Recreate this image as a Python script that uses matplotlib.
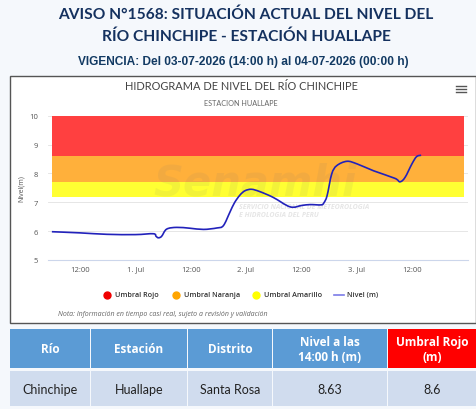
#! /usr/bin/env python
import matplotlib
matplotlib.use("Agg")
import matplotlib.pyplot as plt
from matplotlib.patches import PathPatch, Rectangle
from matplotlib.path import Path

# hours counted from 30 Jun 00:00
hours = [5.9, 12, 17.8, 24, 27.9, 28.5, 29, 29.7, 30.8, 33, 35.9, 38.8, 41.7, 43.1, 44.5,
         45.5, 46.7, 47.8, 49.2, 51, 53.9, 57.6, 60.1, 61.9, 64.3, 64.9, 65.6, 66.6, 67.7,
         69.9, 72.1, 75.7, 80.3, 81.4, 82.5, 84, 85, 86]
nivel = [5.98, 5.94, 5.89, 5.88, 5.91, 5.82, 5.77, 5.82, 6.07, 6.13, 6.10, 6.06, 6.11, 6.19, 6.65,
         6.98, 7.25, 7.40, 7.45, 7.37, 7.17, 6.84, 6.89, 6.92, 6.91, 6.98, 7.23, 7.98, 8.27,
         8.42, 8.33, 8.09, 7.83, 7.71, 7.86, 8.33, 8.58, 8.63]

band_limits = [7.2, 7.7, 8.6, 10]
band_colors = ["#FFFF33", "#FFB03B", "#FF4040"]
y_ticks = [5, 6, 7, 8, 9, 10]
x_ticks = [12, 24, 36, 48, 60, 72, 84]
x_labels = ["12:00", "1. Jul", "12:00", "2. Jul", "12:00", "3. Jul", "12:00"]
legend_names = ["Umbral Rojo", "Umbral Naranja", "Umbral Amarillo"]
legend_colors = ["#F00000", "#FFA500", "#FFFF00"]
table_head = ["Río", "Estación", "Distrito", "Nivel a las\n14:00 h (m)", "Umbral Rojo\n(m)"]
table_row = ["Chinchipe", "Huallape", "Santa Rosa", "8.63", "8.6"]


def smooth_path(xs, ys):
    # bezier curve through the points, the chart library draws its line the same way
    verts = [(xs[0], ys[0])]
    codes = [Path.MOVETO]
    n = len(xs)
    for i in range(n - 1):
        a, b = max(i - 1, 0), min(i + 2, n - 1)
        verts.append((xs[i] + (xs[i + 1] - xs[a]) / 6, ys[i] + (ys[i + 1] - ys[a]) / 6))
        verts.append((xs[i + 1] - (xs[b] - xs[i]) / 6, ys[i + 1] - (ys[b] - ys[i]) / 6))
        verts.append((xs[i + 1], ys[i + 1]))
        codes += [Path.CURVE4] * 3
    return Path(verts, codes)


W, H = 477, 410
fig = plt.figure(figsize=(W / 100, H / 100), dpi=100, facecolor="#F5F8FC")

# page overlay in pixel coordinates
page = fig.add_axes([0, 0, 1, 1])
page.set_xlim(0, W)
page.set_ylim(H, 0)
page.axis("off")

navy = "#14315F"
page.text(246, 15, "AVISO N°1568: SITUACIÓN ACTUAL DEL NIVEL DEL", ha="center", va="center",
          family="Lato", weight="bold", fontsize=11.2, color=navy)
page.text(246, 37, "RÍO CHINCHIPE - ESTACIÓN HUALLAPE", ha="center", va="center",
          family="Lato", weight="bold", fontsize=11.2, color=navy)
page.text(243, 62, "VIGENCIA: Del 03-07-2026 (14:00 h) al 04-07-2026 (00:00 h)", ha="center", va="center",
          family="Liberation Sans", weight="bold", fontsize=8.6, color="#123A63")

# chart frame
page.add_patch(Rectangle((10.5, 76.5), 465.5, 247.5, fc="white", ec="#555555", lw=1))
page.text(241, 87, "HIDROGRAMA DE NIVEL DEL RÍO CHINCHIPE", ha="center", va="center",
          family="Lato", fontsize=7.9, color="#444444")
page.text(241, 104, "ESTACION HUALLAPE", ha="center", va="center",
          family="Lato", fontsize=5.2, color="#666666")
for y in [86.5, 89.5, 92.5]:
    page.plot([456, 466], [y, y], color="#555555", lw=1)

# legend row
for x, name, col in zip([107, 176, 256], legend_names, legend_colors):
    page.plot(x, 296, "o", color=col, ms=5)
    page.text(x + 8, 296, name, va="center", family="Open Sans", weight="semibold",
              fontsize=5.2, color="#333333")
page.plot([334, 344], [296, 296], color="#7B7BE8", lw=1.2)
page.text(347, 296, "Nivel (m)", va="center", family="Open Sans", weight="semibold",
          fontsize=5.2, color="#333333")
page.text(58, 314.5, "Nota: Información en tiempo casi real, sujeto a revisión y validación", va="center",
          family="Open Sans", style="italic", fontsize=5, color="#666666")

# table
col_edges = [(10, 90), (91, 187), (188, 272), (273, 387), (388, 476)]
for i, (x0, x1) in enumerate(col_edges):
    page.add_patch(Rectangle((x0, 330), x1 - x0, 39, fc="#FF0000" if i == 4 else "#5B9BD5", ec="none"))
    page.add_patch(Rectangle((x0, 372), x1 - x0, 35, fc="#D0DCEE", ec="none"))
    page.text((x0 + x1) / 2, 350, table_head[i], ha="center", va="center", family="Open Sans",
              weight="bold", fontsize=8.5, color="white", linespacing=1.15)
    page.text((x0 + x1) / 2, 390, table_row[i], ha="center", va="center", family="Lato",
              fontsize=9, color="#222222")

# hydrograph, placed by pixel box
left, right, top, bottom = 48, 467.7, 116.7, 261
ax = fig.add_axes([left / W, 1 - bottom / H, (right - left) / W, (bottom - top) / H])
ax.patch.set_alpha(0)
ax.set_axisbelow(True)
ax.set_xlim(5.06, 96.1)
ax.set_ylim(5, 10)
x_start = 5.9
x_end = 95.3
for lo, hi, col in zip(band_limits[:-1], band_limits[1:], band_colors):
    ax.fill_between([x_start, x_end], lo, hi, color=col, lw=0, zorder=1)
ax.add_patch(PathPatch(smooth_path(hours, nivel), fc="none", ec="#2222BB", lw=1.2, zorder=4))
ax.text(50, 7.7, "Senamhi", ha="center", va="center", family="DejaVu Sans", weight="bold", style="italic",
        fontsize=30, color="#777777", alpha=0.09, zorder=3)
ax.text(46.5, 6.72, "SERVICIO NACIONAL DE METEOROLOGIA\nE HIDROLOGIA DEL PERU", va="center",
        family="Open Sans", weight="bold", style="italic", fontsize=5, color="#E6E6E6", zorder=2)

for side in ["top", "right", "left"]:
    ax.spines[side].set_visible(False)
ax.spines["bottom"].set_color("#CCD6EB")
ax.spines["bottom"].set_linewidth(0.8)
ax.grid(axis="y", color="#E6E6E6", lw=0.7)
ax.set_yticks(y_ticks)
ax.set_xticks(x_ticks)
ax.set_xticklabels(x_labels)
ax.tick_params(axis="y", length=0, pad=7, labelsize=5.5, labelcolor="#555555")
ax.tick_params(axis="x", length=0, pad=4, labelsize=5.5, labelcolor="#555555")
for t in ax.get_xticklabels() + ax.get_yticklabels():
    t.set_family("Open Sans")
page.text(21, 189, "Nivel(m)", rotation=90, ha="center", va="center", family="Open Sans",
          fontsize=5, color="#555555")

fig.savefig("out.png", dpi=100, facecolor=fig.get_facecolor())
